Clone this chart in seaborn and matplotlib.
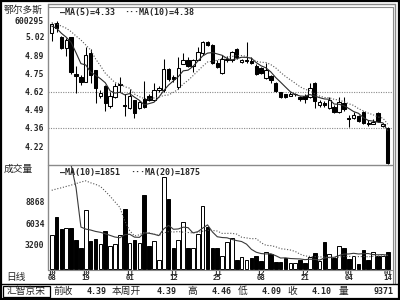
import numpy as np
import pandas as pd
import matplotlib
matplotlib.use("Agg")
import matplotlib.pyplot as plt
from matplotlib.lines import Line2D
from matplotlib.patches import Rectangle
import seaborn as sns

# ---------------- data ----------------
opens = [5.05, 5.12, 5.02, 4.94, 5.02, 4.75, 4.725, 4.69, 4.905, 4.775,
         4.59, 4.66, 4.515, 4.58, 4.668, 4.52, 4.50, 4.558, 4.50, 4.565,
         4.585, 4.56, 4.63, 4.63, 4.785, 4.725, 4.655, 4.825, 4.855, 4.81,
         4.85, 4.90, 4.985, 4.96, 4.83, 4.755, 4.855, 4.85, 4.93, 4.837,
         4.845, 4.845, 4.81, 4.79, 4.72, 4.735, 4.683, 4.617, 4.60, 4.59,
         4.60, 4.58, 4.588, 4.58, 4.683, 4.52, 4.538, 4.50, 4.508, 4.47,
         4.535, 4.43, 4.43, 4.44, 4.47, 4.39, 4.385, 4.464, 4.368, 4.35]
highs = [5.12, 5.14, 5.03, 5.01, 5.02, 4.81, 4.74, 4.95, 4.93, 4.78,
         4.63, 4.67, 4.62, 4.68, 4.73, 4.60, 4.64, 4.56, 4.55, 4.70,
         4.60, 4.68, 4.66, 4.86, 4.79, 4.74, 4.87, 4.90, 4.87, 4.86,
         4.95, 4.99, 4.99, 4.97, 4.85, 4.89, 4.88, 4.92, 4.94, 4.86,
         4.98, 4.87, 4.82, 4.80, 4.83, 4.74, 4.69, 4.62, 4.605, 4.62,
         4.61, 4.585, 4.60, 4.68, 4.69, 4.56, 4.55, 4.58, 4.52, 4.58,
         4.58, 4.45, 4.47, 4.45, 4.48, 4.41, 4.42, 4.47, 4.39, 4.36]
lows = [4.99, 5.06, 4.93, 4.88, 4.75, 4.61, 4.67, 4.69, 4.68, 4.54,
        4.57, 4.48, 4.50, 4.57, 4.62, 4.44, 4.49, 4.43, 4.49, 4.50,
        4.55, 4.55, 4.62, 4.62, 4.70, 4.69, 4.64, 4.82, 4.80, 4.76,
        4.85, 4.89, 4.955, 4.82, 4.79, 4.75, 4.84, 4.84, 4.86, 4.83,
        4.83, 4.82, 4.745, 4.75, 4.71, 4.68, 4.62, 4.575, 4.575, 4.585,
        4.59, 4.55, 4.54, 4.575, 4.50, 4.51, 4.51, 4.495, 4.465, 4.465,
        4.48, 4.36, 4.42, 4.40, 4.385, 4.37, 4.38, 4.40, 4.36, 4.09]
closes = [5.115, 5.085, 4.94, 5.00, 4.76, 4.735, 4.69, 4.89, 4.74, 4.645,
          4.61, 4.54, 4.59, 4.66, 4.676, 4.515, 4.585, 4.46, 4.545, 4.51,
          4.56, 4.635, 4.645, 4.785, 4.715, 4.715, 4.79, 4.855, 4.81, 4.85,
          4.91, 4.98, 4.96, 4.83, 4.80, 4.86, 4.862, 4.91, 4.875, 4.852,
          4.855, 4.83, 4.75, 4.757, 4.778, 4.705, 4.625, 4.58, 4.58, 4.605,
          4.605, 4.568, 4.568, 4.646, 4.551, 4.545, 4.52, 4.558, 4.47, 4.544,
          4.49, 4.42, 4.445, 4.405, 4.39, 4.383, 4.395, 4.405, 4.383, 4.10]
volumes = [4520, 6840, 5215, 5420, 5350, 3880, 2770, 7740, 3710, 3970,
           3360, 4960, 3030, 3280, 4480, 7830, 3450, 3880, 3420, 9720,
           2980, 3670, 1220, 12000, 9120, 2770, 3880, 6200, 2830, 2830,
           4570, 8260, 5550, 2770, 2800, 1740, 3540, 4060, 1260, 1650,
           1170, 1480, 1740, 1040, 2290, 2000, 1000, 1000, 1520, 750,
           870, 1210, 830, 1610, 2120, 1040, 3620, 2000, 1480, 3100,
           2750, 1400, 1700, 700, 2550, 1200, 2250, 1740, 1740, 2300]

# moving-average values before the window is full
ma5_head = [5.10, 5.084, 5.047, 5.018]
ma10_head = [5.125, 5.115, 5.10, 5.084, 5.059, 5.027, 4.998, 4.961, 4.925]
vol_ma10_head = [16500, 16000, 15500, 14800, 13600, 10660, 5510, 5250, 5125]
vol_ma20_head = [10320, 10500, 10650, 10830, 11000, 11200, 11400, 11560, 11300, 11100,
                 10830, 10200, 9540, 8800, 8080, 6320, 5040, 4350, 4500]

date_tick_idx = [0, 7, 16, 25, 34, 43, 52, 61, 69]
date_tick_labels = ["10\n08", "10\n19", "11\n01", "11\n12", "11\n25",
                    "12\n08", "12\n21", "01\n04", "01\n14"]
price_tick_labels = ["5.02", "4.89", "4.75", "4.62", "4.49", "4.36", "4.22"]
vol_tick_values = [3200, 6034, 8868]
vol_tick_labels = ["3200", "6034", "8868"]
ref_line_labels = ["4.62", "4.36"]

stock_name = "鄂尔多斯"
stock_code = "600295"
vol_legend_values = ["1851", "1875"]
status_names = ["前收", "本周开", "高", "低", "收", "量"]
status_values = ["4.39", "4.39", "4.46", "4.09", "4.10", "9371"]

# ---------------- derived ----------------
n = len(closes)
df = pd.DataFrame({"idx": np.arange(n), "open": opens, "high": highs,
                   "low": lows, "close": closes, "volume": volumes})
df["dir"] = np.where(df["close"] >= df["open"], "up", "down")
ma5 = df["close"].rolling(5).mean().to_numpy()
ma5[:len(ma5_head)] = ma5_head
ma10 = df["close"].rolling(10).mean().to_numpy()
ma10[:len(ma10_head)] = ma10_head
vma10 = df["volume"].rolling(10).mean().to_numpy()
vma10[:len(vol_ma10_head)] = vol_ma10_head
vma20 = df["volume"].rolling(20).mean().to_numpy()
vma20[:len(vol_ma20_head)] = vol_ma20_head

p_top_tick = float(price_tick_labels[0])
p_step = (float(price_tick_labels[0]) - float(price_tick_labels[-1])) / (len(price_tick_labels) - 1)
price_tick_pos = [p_top_tick - k * p_step for k in range(len(price_tick_labels))]
ref_pos = [price_tick_pos[price_tick_labels.index(s)] for s in ref_line_labels]

# ---------------- style ----------------
sns.set_theme(style="white")
plt.rcParams["font.family"] = ["DejaVu Sans Mono", "Noto Sans CJK SC"]
CJK = ["Noto Sans CJK SC", "DejaVu Sans"]
MONO = ["DejaVu Sans Mono", "Noto Sans CJK SC"]
GRAY = "#8a8a8a"

W, H = 400, 300
fig = plt.figure(figsize=(4, 3), dpi=100)
fig.patch.set_facecolor("white")

def fx(x):
    return x / W

def fy(y):
    return 1 - y / H

L, R = 48, 392
axp = fig.add_axes([fx(L), fy(165), (R - L) / W, (165 - 5) / H])
axv = fig.add_axes([fx(L), fy(270), (R - L) / W, (270 - 165) / H])

x0, dx = 51.7, 4.87
xlim = ((L - x0) / dx, (R - x0) / dx)

# ---------------- price panel ----------------
idx = df["idx"].to_numpy()
axp.vlines(idx, df["low"], df["high"], color="black", lw=0.75, zorder=2)
bottoms = np.minimum(df["open"], df["close"])
heights = np.maximum(np.abs(df["close"] - df["open"]), 0.004)
faces = np.where(df["dir"] == "up", "white", "black")
axp.bar(idx, heights, bottom=bottoms, width=0.7, color=faces,
        edgecolor="black", linewidth=0.75, zorder=3)
sns.lineplot(x=idx, y=ma5, ax=axp, color="#2a2a2a", lw=0.8, zorder=4)
sns.lineplot(x=idx, y=ma10, ax=axp, color="#555555", lw=0.8,
             linestyle=(0, (1, 1.6)), zorder=4)
for rp in ref_pos:
    axp.axhline(rp, color=GRAY, lw=0.8, linestyle=(0, (1, 1.2)), zorder=1)

p_per_px = p_step / 18.2
y_tick0_px = 37
ylo = p_top_tick - (165 - y_tick0_px) * p_per_px
yhi = p_top_tick + (y_tick0_px - 5) * p_per_px
axp.set_xlim(*xlim)
axp.set_ylim(ylo, yhi)
axp.set_yticks(price_tick_pos)
axp.set_yticklabels(price_tick_labels, fontsize=5.8, fontweight="bold", family=MONO)
axp.set_xticks([])
axp.tick_params(axis="y", length=0, pad=2.5)
axp.set_xlabel("")
axp.set_ylabel("")
for s in axp.spines.values():
    s.set_visible(False)

fig.text(fx(60), fy(13), f"\u2014MA(5)={ma5[-1]:.2f}", fontsize=6, fontweight="bold",
         family=MONO, va="center", ha="left")
fig.text(fx(124), fy(13), f"\u00b7\u00b7\u00b7MA(10)={ma10[-1]:.2f}", fontsize=6,
         fontweight="bold", family=MONO, va="center", ha="left")

# ---------------- volume panel ----------------
sns.barplot(data=df, x="idx", y="volume", hue="dir", order=list(range(n)),
            hue_order=["up", "down"], palette={"up": "white", "down": "black"},
            dodge=False, width=0.75, edgecolor="black", linewidth=0.7,
            errorbar=None, legend=False, ax=axv)
sns.lineplot(x=idx, y=vma10, ax=axv, color="#3a3a3a", lw=0.8, zorder=4)
sns.lineplot(x=idx, y=vma20, ax=axv, color="#555555", lw=0.8,
             linestyle=(0, (1, 1.6)), zorder=4)
v_per_px = (vol_tick_values[2] - vol_tick_values[0]) / 44.0
axv.set_xlim(*xlim)
axv.set_ylim(-0.8 * v_per_px, (270.8 - 165) * v_per_px)
axv.set_yticks(vol_tick_values)
axv.set_yticklabels(vol_tick_labels, fontsize=5.8, fontweight="bold", family=MONO)
axv.set_xticks(date_tick_idx)
axv.set_xticklabels(date_tick_labels, fontsize=5.2, fontweight="bold", family=MONO,
                    linespacing=0.72)
axv.tick_params(axis="y", length=0, pad=2.5)
axv.tick_params(axis="x", length=0, pad=0.3)
axv.set_xlabel("")
axv.set_ylabel("")
for s in axv.spines.values():
    s.set_visible(False)

fig.text(fx(60), fy(172), f"\u2014MA(10)={vol_legend_values[0]}", fontsize=6,
         fontweight="bold", family=MONO, va="center", ha="left")
fig.text(fx(130), fy(172), f"\u00b7\u00b7\u00b7MA(20)={vol_legend_values[1]}", fontsize=6,
         fontweight="bold", family=MONO, va="center", ha="left")

# ---------------- labels ----------------
fig.text(fx(4), fy(10), stock_name, fontsize=7, family=CJK, va="center", ha="left")
fig.text(fx(44), fy(22), stock_code, fontsize=5.8, fontweight="bold", family=MONO,
         va="center", ha="right")
fig.text(fx(4), fy(169), "成交量", fontsize=7, family=CJK, va="center", ha="left")
fig.text(fx(6), fy(277), "日线", fontsize=7, family=CJK, va="center", ha="left")

# ---------------- frame lines ----------------
def hline(y, x1, x2, color, lw):
    fig.add_artist(Line2D([fx(x1), fx(x2)], [fy(y), fy(y)], color=color, lw=lw))

def vline(x, y1, y2, color, lw):
    fig.add_artist(Line2D([fx(x), fx(x)], [fy(y1), fy(y2)], color=color, lw=lw))

vline(L, 4, 270, GRAY, 1.0)
hline(165, L, R, GRAY, 1.0)
hline(270, L, R, GRAY, 0.8)
hline(4, L, 395, GRAY, 1.0)
hline(6.5, L, 392.5, GRAY, 0.8)
vline(392.5, 6.5, 283, GRAY, 0.8)
vline(395, 4, 283, GRAY, 1.0)
hline(284, 0, 400, "black", 1.0)
fig.add_artist(Rectangle((0.002, 0.003), 0.996, 0.994, transform=fig.transFigure,
                         fill=False, edgecolor="black", lw=1.6))

# ---------------- status bar ----------------
sy = 291
fig.add_artist(Rectangle((fx(3), fy(297)), (50 - 3) / W, (297 - 285.5) / H,
                         transform=fig.transFigure, fill=False, edgecolor="black", lw=0.9))
fig.text(fx(26.5), fy(sy), "汇智京宋", fontsize=7, family=CJK, va="center", ha="center")
name_x = [53, 112, 187, 238, 287, 339]
val_right = [107, 177, 232, 282, 332, 393]
for nm, vx, val, vr in zip(status_names, name_x, status_values, val_right):
    fig.text(fx(vx), fy(sy), nm, fontsize=7, family=CJK, va="center", ha="left")
    fig.text(fx(vr), fy(sy), val, fontsize=6, fontweight="bold", family=MONO,
             va="center", ha="right")

fig.savefig("out.png", dpi=100)
